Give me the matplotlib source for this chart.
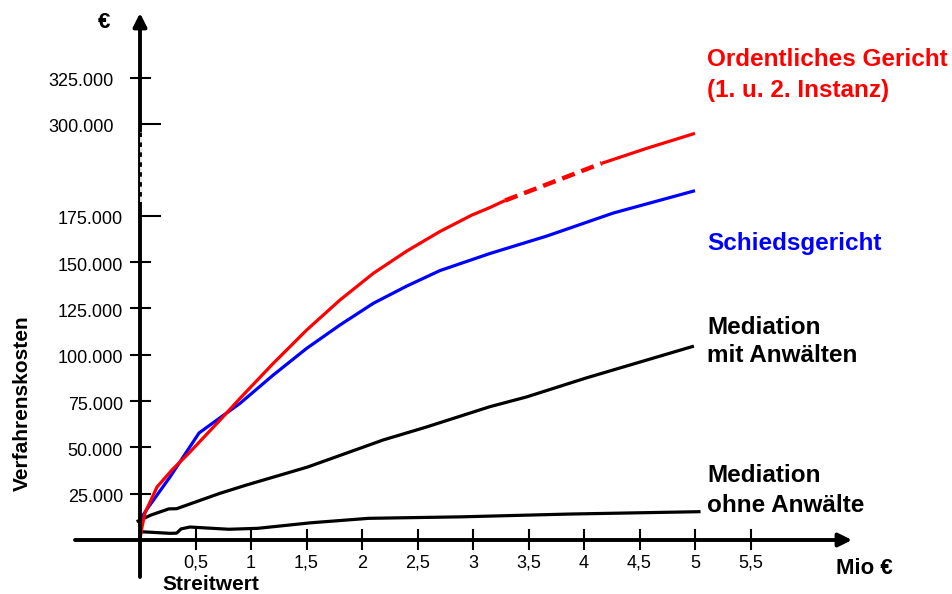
import numpy as np
import matplotlib
matplotlib.use('Agg')
import matplotlib.pyplot as plt
import matplotlib.transforms as mtransforms

plt.rcParams['font.family'] = ['Liberation Sans', 'DejaVu Sans']

# Streitwert (Mio EUR) -> Verfahrenskosten (EUR)
# Ordentliches Gericht: solid part, dashed gap (axis break), solid part
ord_x = [0, 0.018, 0.045, 0.153, 0.288, 0.45, 0.739, 0.901, 1.201, 1.502,
         1.802, 2.102, 2.403, 2.703, 2.991, 3.153, 3.288]
ord_y = [0, 7000, 14600, 28600, 37800, 47500, 65900, 76500, 95400, 113400,
         129600, 144000, 156000, 166600, 176200, 186400, 195900]
ord2_x = [4.159, 4.565, 5.0]
ord2_y = [246500, 266900, 287300]

schied_x = [0, 0.063, 0.27, 0.532, 0.901, 1.201, 1.502, 1.802, 2.102, 2.403,
            2.703, 3.153, 3.664, 4.264, 5.0]
schied_y = [10800, 16700, 34000, 57800, 73800, 89100, 103500, 116100, 127800,
            137100, 145500, 154700, 164100, 178900, 209300]

med_mit_x = [-0.03, 0.1, 0.26, 0.33, 0.72, 0.96, 1.51, 1.99, 2.19, 2.58,
             3.153, 3.48, 4.02, 4.99]
med_mit_y = [9900, 13500, 16800, 16900, 25200, 29700, 39400, 49700, 54000,
             61000, 72000, 77200, 87500, 104700]

med_ohne_x = [0, 0.27, 0.33, 0.37, 0.45, 0.8, 1.06, 1.54, 2.06, 2.89, 3.86, 5.05]
med_ohne_y = [4500, 3600, 3700, 6000, 7000, 5800, 6300, 9300, 11700, 12500,
              14000, 15300]

x_ticks = [0.5, 1, 1.5, 2, 2.5, 3, 3.5, 4, 4.5, 5, 5.5]
x_tick_labels = ['0,5', '1', '1,5', '2', '2,5', '3', '3,5', '4', '4,5', '5', '5,5']
y_ticks = [25000, 50000, 75000, 100000, 125000, 150000, 175000, 300000, 325000]
y_tick_labels = ['25.000', '50.000', '75.000', '100.000', '125.000', '150.000',
                 '175.000', '300.000', '325.000']

# broken value axis: 175.000 .. 300.000 is squeezed
bp_val = np.array([-1e6, 0, 175000, 300000, 1e6])
bp_f = np.array([-1e6 / 25000 * 46.3, 0, 324.1, 416.0, 416.0 + 700000 / 25000 * 46])


def forward(v):
    return np.interp(v, bp_val, bp_f)


def inverse(f):
    return np.interp(f, bp_f, bp_val)


W, H = 952, 594
fig = plt.figure(figsize=(W / 100, H / 100), dpi=100)
ax = fig.add_axes([0, 0, 1, 1])
ax.set_yscale('function', functions=(forward, inverse))
ax.set_xlim(-140 / 111, (W - 140) / 111)
ax.set_ylim(inverse(-54), inverse(540))
ax.axis('off')


def px(x, y):
    return x / W, 1 - y / H


# axes with arrows
arrow = dict(arrowstyle='-|>', lw=2.8, color='black', mutation_scale=20,
             shrinkA=0, shrinkB=0)
ax.annotate('', xy=(0, inverse(527)), xytext=(0, inverse(-37)), arrowprops=arrow)
ax.annotate('', xy=((852 - 140) / 111, 0), xytext=((75 - 140) / 111, 0),
            arrowprops=arrow)

# break marker on the value axis
ax.plot([0.011, 0.011], [inverse(338), inverse(408)], color='white', lw=1.3,
        linestyle=(0, (3, 2.5)), zorder=5)

# y ticks
lab_off = mtransforms.offset_copy(ax.transData, fig=fig, y=-4, units='dots')
for v, lab in zip(y_ticks, y_tick_labels):
    if v in (175000, 300000):
        ax.plot([0, 0.18], [v, v], color='black', lw=1.5)
    else:
        ax.plot([-0.081, 0.09], [v, v], color='black', lw=1.5)
    xr = -0.234 if v >= 300000 else -0.153
    ax.text(xr, v, lab, ha='right', va='center', fontsize=13, transform=lab_off)

# x ticks
for v, lab in zip(x_ticks, x_tick_labels):
    ax.plot([v, v], [inverse(10), inverse(-9)], color='black', lw=1.5)
    ax.text(v, inverse(-23), lab, ha='center', va='center', fontsize=13)

# curves
line = dict(lw=2.3, solid_capstyle='butt', solid_joinstyle='round')
ax.plot(med_ohne_x, med_ohne_y, color='black', **line)
ax.plot(med_mit_x, med_mit_y, color='black', **line)
ax.plot(schied_x, schied_y, color='#0000FF', **line)
ax.plot(ord_x, ord_y, color='#FF0000', **line)
ax.plot([ord_x[-1], ord2_x[0]], [ord_y[-1], ord2_y[0]], color='#FF0000', lw=3.2,
        linestyle=(0, (3, 1.6)))
ax.plot(ord2_x, ord2_y, color='#FF0000', **line)

# labels
bold = dict(fontweight='bold', va='center', ha='left')
fig.text(*px(707, 60), 'Ordentliches Gericht', color='#FF0000', fontsize=17.5, **bold)
fig.text(*px(707, 90), '(1. u. 2. Instanz)', color='#FF0000', fontsize=17.5, **bold)
fig.text(*px(707, 243), 'Schiedsgericht', color='#0000FF', fontsize=17.5, **bold)
fig.text(*px(707, 327), 'Mediation', color='black', fontsize=17.5, **bold)
fig.text(*px(707, 355), 'mit Anwälten', color='black', fontsize=17.5, **bold)
fig.text(*px(707, 475), 'Mediation', color='black', fontsize=17.5, **bold)
fig.text(*px(707, 505), 'ohne Anwälte', color='black', fontsize=17.5, **bold)
fig.text(*px(836, 568), 'Mio €', color='black', fontsize=16, **bold)
fig.text(*px(162, 585), 'Streitwert', color='black', fontsize=15, **bold)
fig.text(*px(104, 23), '€', color='black', fontsize=16, fontweight='bold',
         ha='center', va='center')
fig.text(*px(22, 403), 'Verfahrenskosten', color='black', fontsize=15,
         fontweight='bold', rotation=90, ha='center', va='center')

fig.savefig('out.png', dpi=100)
